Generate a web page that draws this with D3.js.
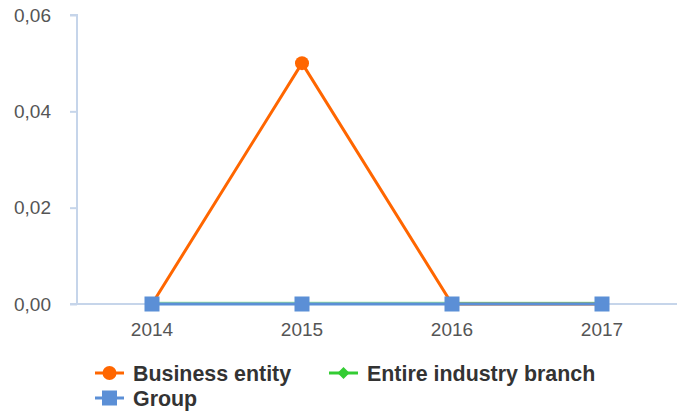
<!DOCTYPE html>
<html>
<head>
<meta charset="utf-8">
<script src="https://cdn.jsdelivr.net/npm/d3@7"></script>
<style>
  html, body { margin: 0; padding: 0; background: #fff; }
  svg { display: block; }
</style>
</head>
<body>
<svg id="chart" width="685" height="414"></svg>
<script>
// Years on the horizontal axis
const years = ["2014", "2015", "2016", "2017"];
// Series values per year
const businessEntity = [0, 0.05, 0, 0];
const industryBranch = [0, 0, 0, 0];
const group = [0, 0, 0, 0];
// Vertical axis ticks
const yTicks = [0, 0.02, 0.04, 0.06];

const series = [
  { name: "Business entity", values: businessEntity, color: "#ff6600", symbol: "circle" },
  { name: "Entire industry branch", values: industryBranch, color: "#33cc33", symbol: "diamond" },
  { name: "Group", values: group, color: "#5b8fd6", symbol: "square" }
];

const FONT = "'Liberation Sans', Arial, sans-serif";
const svg = d3.select("#chart");
const x = d3.scaleBand().domain(years).range([77, 677]);
const y = d3.scaleLinear().domain([0, 0.06]).range([304, 15]);
const axisColor = "#c6d5ea";
const fmt = v => d3.format(".2f")(v).replace(".", ",");

// y axis
const gy = svg.append("g").attr("transform", "translate(77,0)")
  .call(d3.axisLeft(y).tickValues(yTicks).tickSize(7).tickPadding(19).tickFormat(fmt));
gy.attr("font-family", FONT).attr("font-size", 19);
gy.select(".domain").attr("stroke", axisColor).attr("stroke-width", 2).attr("d", `M-7,${y(0.06)}H0V${y(0)}`);
gy.selectAll(".tick line").attr("stroke", axisColor).attr("stroke-width", 2);
gy.selectAll(".tick text").attr("fill", "#555");

// x axis
const gx = svg.append("g").attr("transform", `translate(0,${y(0)})`)
  .call(d3.axisBottom(x).tickSize(0).tickPadding(19));
gx.attr("font-family", FONT).attr("font-size", 19);
gx.select(".domain").attr("stroke", axisColor).attr("stroke-width", 2).attr("d", "M70,0H677");
gx.selectAll(".tick text").attr("fill", "#555");

const cx = d => x(d) + x.bandwidth() / 2;
const line = d3.line().x((d, i) => cx(years[i])).y(d => y(d));

function drawSymbol(g, s, px, py) {
  if (s.symbol === "circle") {
    g.append("circle").attr("cx", px).attr("cy", py).attr("r", 7).attr("fill", s.color);
  } else if (s.symbol === "square") {
    g.append("rect").attr("x", px - 7.5).attr("y", py - 7.5).attr("width", 15).attr("height", 15).attr("fill", s.color);
  } else {
    g.append("path").attr("d", `M${px},${py - 6}L${px + 6},${py}L${px},${py + 6}L${px - 6},${py}Z`).attr("fill", s.color);
  }
}

// business entity first, industry branch just beneath the group line, group on top
series.forEach(s => {
  const g = svg.append("g");
  g.append("path").attr("d", line(s.values)).attr("fill", "none")
    .attr("stroke", s.color).attr("stroke-width", 3)
    .attr("stroke-opacity", s.symbol === "diamond" ? 0.5 : 1)
    .attr("transform", s.symbol === "diamond" ? "translate(0,-0.8)" : null);
  s.values.forEach((v, i) => {
    if (s.symbol === "circle" && v === 0) return;
    if (s.symbol === "diamond") return;
    drawSymbol(g, s, cx(years[i]), y(v));
  });
});

// legend
const legendItems = [
  { s: series[0], x: 95, y: 373 },
  { s: series[1], x: 329, y: 373 },
  { s: series[2], x: 95, y: 398 }
];
legendItems.forEach(it => {
  const g = svg.append("g");
  g.append("line").attr("x1", it.x).attr("x2", it.x + 29).attr("y1", it.y).attr("y2", it.y)
    .attr("stroke", it.s.color).attr("stroke-width", 3);
  drawSymbol(g, it.s, it.x + 14.5, it.y);
  g.append("text").attr("x", it.x + 38).attr("y", it.y + 7.5).attr("font-size", 21.4)
    .attr("font-family", FONT).attr("font-weight", "bold").attr("fill", "#333").text(it.s.name);
});
</script>
</body>
</html>
